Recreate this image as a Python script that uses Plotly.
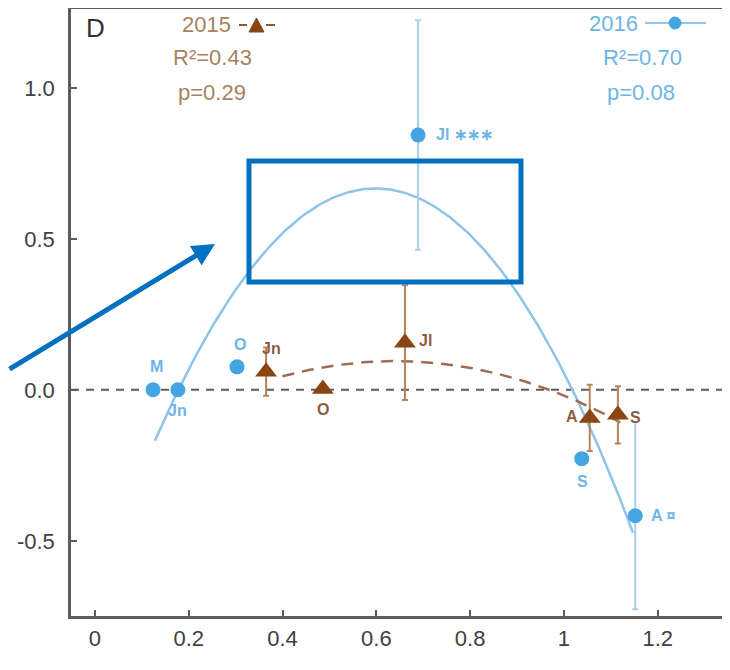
import numpy as np
import plotly.graph_objects as go

# ---------------- data ----------------
labels_2016 = ["M", "Jn", "O", "Jl ∗∗∗", "S", "A ¤"]
x_2016 = [0.124, 0.177, 0.303, 0.689, 1.038, 1.152]
y_2016 = [0.0, 0.0, 0.076, 0.844, -0.228, -0.417]
err_2016 = [0.0, 0.0, 0.0, 0.38, 0.0, 0.31]

labels_2015 = ["Jn", "O", "Jl", "A", "S"]
x_2015 = [0.365, 0.486, 0.661, 1.055, 1.115]
y_2015 = [0.060, 0.003, 0.156, -0.093, -0.083]
err_2015 = [0.08, 0.0, 0.19, 0.11, 0.095]

# quadratic fits (coefficients, highest power first) and their x extents
fit_2016 = [-3.78, 4.521, -0.685]
fit_2016_span = [0.128, 1.147]
fit_2015 = [-0.88, 1.126, -0.265]
fit_2015_span = [0.40, 1.12]

legend_2015 = ["2015", "R²=0.43", "p=0.29"]
legend_2016 = ["2016", "R²=0.70", "p=0.08"]

x_ticks = [0, 0.2, 0.4, 0.6, 0.8, 1.0, 1.2]
x_tick_text = ["0", "0.2", "0.4", "0.6", "0.8", "1", "1.2"]
y_ticks = [-0.5, 0.0, 0.5, 1.0]
y_tick_text = ["-0.5", "0.0", "0.5", "1.0"]

# ---------------- style ----------------
OFF = 8                      # default page body margin
W, H = 730 - OFF, 670 - OFF  # figure size
L, R, T, B = 71, 722, 9, 616  # plot area in page pixels
FONT = "Liberation Sans, Arial, sans-serif"
BLUE = "#45a4e2"
BLUE_LINE = "#8ec4e8"
BLUE_ERR = "#a9d0ea"
BLUE_TXT = "#6db5e6"
BROWN = "#8a4512"
BROWN_LINE = "#9c6d52"
BROWN_ERR = "#b5835a"
BROWN_TXT = "#8f5d3e"
LEGEND_BROWN = "#a8825f"
ANNOT = "#0070c0"


def px(xp):
    return (xp - L) / (R - L)


def py(yp):
    return (B - yp) / (B - T)


fig = go.Figure()

# fitted curves
xf16 = np.linspace(fit_2016_span[0], fit_2016_span[1], 200)
fig.add_trace(go.Scatter(x=xf16, y=np.polyval(fit_2016, xf16), mode="lines",
                         line=dict(color=BLUE_LINE, width=2.5), hoverinfo="skip"))
xf15 = np.linspace(fit_2015_span[0], fit_2015_span[1], 200)
fig.add_trace(go.Scatter(x=xf15, y=np.polyval(fit_2015, xf15), mode="lines",
                         line=dict(color=BROWN_LINE, width=2.5, dash="12px,8px"),
                         hoverinfo="skip"))

# 2016 points
fig.add_trace(go.Scatter(
    x=x_2016, y=y_2016, mode="markers",
    marker=dict(symbol="circle", size=15, color=BLUE),
    error_y=dict(type="data", array=err_2016, visible=True, color=BLUE_ERR,
                 thickness=2, width=3)))

# 2015 points
fig.add_trace(go.Scatter(
    x=x_2015, y=y_2015, mode="markers",
    marker=dict(symbol="triangle-up", size=19, color=BROWN),
    error_y=dict(type="data", array=err_2015, visible=True, color=BROWN_ERR,
                 thickness=2, width=3)))

# zero line
fig.add_shape(type="line", xref="paper", yref="y", x0=0, x1=1, y0=0, y1=0,
              line=dict(color="#5e5e5e", width=2, dash="8px,7px"), layer="below")

# point labels
off16 = [(3, 23, "center"), (0, -21, "center"), (3, 22, "center"),
         (16, 0, "left"), (1, -23, "center"), (14, 0, "left")]
for xv, yv, t, (dx, dy, anc) in zip(x_2016, y_2016, labels_2016, off16):
    fig.add_annotation(x=xv, y=yv, text="<b>%s</b>" % t, showarrow=False,
                       xanchor=anc, xshift=dx, yshift=dy,
                       font=dict(family=FONT, size=16, color=BLUE_TXT))
off15 = [(5, 23, "center"), (0, -21, "center"), (12, 2, "left"),
         (-10, 1, "right"), (10, -3, "left")]
for xv, yv, t, (dx, dy, anc) in zip(x_2015, y_2015, labels_2015, off15):
    fig.add_annotation(x=xv, y=yv, text="<b>%s</b>" % t, showarrow=False,
                       xanchor=anc, xshift=dx, yshift=dy,
                       font=dict(family=FONT, size=16, color=BROWN_TXT))

# panel letter
fig.add_annotation(x=px(95), y=py(28), xref="paper", yref="paper", text="D",
                   showarrow=False, xanchor="center", yanchor="middle",
                   font=dict(family=FONT, size=26, color="#333333"))

# 2015 legend block
fig.add_annotation(x=px(233), y=py(25), xref="paper", yref="paper",
                   text=legend_2015[0], showarrow=False, xanchor="right",
                   yanchor="middle",
                   font=dict(family=FONT, size=22, color=LEGEND_BROWN))
for xa, xb in [(239, 247), (266, 275)]:
    fig.add_shape(type="line", xref="paper", yref="paper", x0=px(xa), x1=px(xb),
                  y0=py(25), y1=py(25), line=dict(color=BROWN, width=1.8))
fig.add_shape(type="path", xref="paper", yref="paper",
              path="M %f %f L %f %f L %f %f Z" % (px(249), py(32), px(264), py(32),
                                                 px(256.5), py(18)),
              fillcolor=BROWN, line=dict(color=BROWN, width=1))
for t, (xp, yp) in zip(legend_2015[1:], [(212, 58), (212, 92)]):
    fig.add_annotation(x=px(xp), y=py(yp), xref="paper", yref="paper", text=t,
                       showarrow=False, xanchor="center", yanchor="middle",
                       font=dict(family=FONT, size=22, color=LEGEND_BROWN))

# 2016 legend block
fig.add_annotation(x=px(640), y=py(23), xref="paper", yref="paper",
                   text=legend_2016[0], showarrow=False, xanchor="right",
                   yanchor="middle",
                   font=dict(family=FONT, size=22, color=BLUE_TXT))
fig.add_shape(type="line", xref="paper", yref="paper", x0=px(645), x1=px(706),
              y0=py(23), y1=py(23), line=dict(color=BLUE_TXT, width=1.5))
fig.add_shape(type="circle", xref="paper", yref="paper",
              x0=px(669), x1=px(681), y0=py(29), y1=py(17),
              fillcolor=BLUE, line=dict(color=BLUE, width=1))
for t, (xp, yp) in zip(legend_2016[1:], [(642, 58), (641, 92)]):
    fig.add_annotation(x=px(xp), y=py(yp), xref="paper", yref="paper", text=t,
                       showarrow=False, xanchor="center", yanchor="middle",
                       font=dict(family=FONT, size=22, color=BLUE_TXT))

# overlay highlight box and arrow
fig.add_shape(type="rect", xref="paper", yref="paper",
              x0=px(249), x1=px(521), y0=py(282), y1=py(161),
              line=dict(color=ANNOT, width=5))
fig.add_annotation(x=px(215), y=py(244), xref="paper", yref="paper",
                   ax=-225, ay=126, axref="pixel", ayref="pixel",
                   showarrow=True, arrowhead=2, arrowsize=0.9, arrowwidth=5,
                   arrowcolor=ANNOT, text="")

axis_common = dict(showline=True, mirror=True, linecolor="#5c5c5c", linewidth=2.5,
                   ticks="inside", ticklen=6, tickwidth=1.5, tickcolor="#5c5c5c",
                   showgrid=False, zeroline=False,
                   tickfont=dict(family=FONT, size=22, color="#404040"))
fig.update_layout(
    width=W, height=H,
    margin=dict(l=L - OFF, r=730 - R, t=T - OFF, b=670 - B, autoexpand=False),
    paper_bgcolor="white", plot_bgcolor="white",
    showlegend=False,
    xaxis=dict(range=[-0.051, 1.337], tickvals=x_ticks, ticktext=x_tick_text,
               ticklabelstandoff=1, **axis_common),
    yaxis=dict(range=[-0.749, 1.261], tickvals=y_ticks, ticktext=y_tick_text,
               ticklabelstandoff=9, **axis_common),
)

fig.write_html("out.html")
